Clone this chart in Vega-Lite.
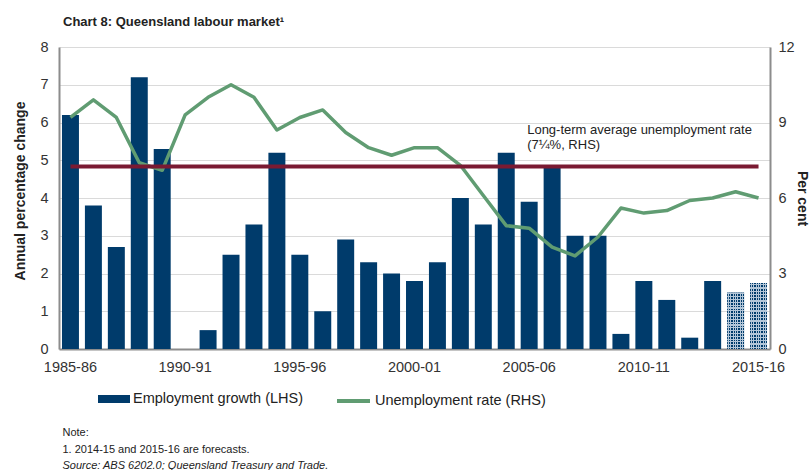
{
  "$schema": "https://vega.github.io/schema/vega-lite/v6.json",
  "width": 711,
  "height": 302,
  "autosize": "none",
  "padding": {"left": 59, "top": 47, "right": 40, "bottom": 121},
  "config": {
    "font": "Liberation Sans",
    "view": {"stroke": null},
    "axis": {
      "labelFont": "Liberation Sans",
      "labelFontSize": 14.5,
      "labelColor": "#333333",
      "titleFont": "Liberation Sans",
      "titleFontSize": 14,
      "titleFontWeight": "bold",
      "titleColor": "#222222",
      "domainColor": "#8c8c8c",
      "domainWidth": 2,
      "ticks": false,
      "grid": false
    },
    "legend": {"labelFont": "Liberation Sans", "labelFontSize": 14.5, "labelColor": "#222222", "padding": 0, "labelLimit": 400}
  },
  "title": {
    "text": "Chart 8: Queensland labour market¹",
    "anchor": "start",
    "frame": "group",
    "fontSize": 13,
    "fontWeight": "bold",
    "color": "#222222",
    "dx": 4,
    "offset": 10
  },
  "data": {
    "values": [
      {"year": "1985-86", "emp": 6.2, "unemp": 9.2, "forecast": false},
      {"year": "1986-87", "emp": 3.8, "unemp": 9.9, "forecast": false},
      {"year": "1987-88", "emp": 2.7, "unemp": 9.2, "forecast": false},
      {"year": "1988-89", "emp": 7.2, "unemp": 7.4, "forecast": false},
      {"year": "1989-90", "emp": 5.3, "unemp": 7.1, "forecast": false},
      {"year": "1990-91", "emp": 0.0, "unemp": 9.3, "forecast": false},
      {"year": "1991-92", "emp": 0.5, "unemp": 10.0, "forecast": false},
      {"year": "1992-93", "emp": 2.5, "unemp": 10.5, "forecast": false},
      {"year": "1993-94", "emp": 3.3, "unemp": 10.0, "forecast": false},
      {"year": "1994-95", "emp": 5.2, "unemp": 8.7, "forecast": false},
      {"year": "1995-96", "emp": 2.5, "unemp": 9.2, "forecast": false},
      {"year": "1996-97", "emp": 1.0, "unemp": 9.5, "forecast": false},
      {"year": "1997-98", "emp": 2.9, "unemp": 8.6, "forecast": false},
      {"year": "1998-99", "emp": 2.3, "unemp": 8.0, "forecast": false},
      {"year": "1999-00", "emp": 2.0, "unemp": 7.7, "forecast": false},
      {"year": "2000-01", "emp": 1.8, "unemp": 8.0, "forecast": false},
      {"year": "2001-02", "emp": 2.3, "unemp": 8.0, "forecast": false},
      {"year": "2002-03", "emp": 4.0, "unemp": 7.3, "forecast": false},
      {"year": "2003-04", "emp": 3.3, "unemp": 6.1, "forecast": false},
      {"year": "2004-05", "emp": 5.2, "unemp": 4.9, "forecast": false},
      {"year": "2005-06", "emp": 3.9, "unemp": 4.8, "forecast": false},
      {"year": "2006-07", "emp": 4.8, "unemp": 4.05, "forecast": false},
      {"year": "2007-08", "emp": 3.0, "unemp": 3.7, "forecast": false},
      {"year": "2008-09", "emp": 3.0, "unemp": 4.45, "forecast": false},
      {"year": "2009-10", "emp": 0.4, "unemp": 5.6, "forecast": false},
      {"year": "2010-11", "emp": 1.8, "unemp": 5.4, "forecast": false},
      {"year": "2011-12", "emp": 1.3, "unemp": 5.5, "forecast": false},
      {"year": "2012-13", "emp": 0.3, "unemp": 5.9, "forecast": false},
      {"year": "2013-14", "emp": 1.8, "unemp": 6.0, "forecast": false},
      {"year": "2014-15", "emp": 1.5, "unemp": 6.25, "forecast": true},
      {"year": "2015-16", "emp": 1.75, "unemp": 6.0, "forecast": true}
    ]
  },
  "encoding": {
    "x": {
      "field": "year",
      "type": "ordinal",
      "scale": {"paddingInner": 0.26, "paddingOuter": 0.13},
      "axis": {
        "values": ["1985-86", "1990-91", "1995-96", "2000-01", "2005-06", "2010-11", "2015-16"],
        "labelAngle": 0,
        "labelPadding": 11,
        "title": null
      }
    }
  },
  "layer": [
    {
      "encoding": {
        "y": {
          "field": "emp",
          "type": "quantitative",
          "scale": {"domain": [0, 8], "nice": false},
          "axis": {
            "orient": "left",
            "values": [0, 1, 2, 3, 4, 5, 6, 7, 8],
            "grid": true,
            "gridColor": "#dadada",
            "gridWidth": 1,
            "labelPadding": 11,
            "title": "Annual percentage change",
            "titlePadding": 12,
            "titleY": 143.5
          }
        }
      },
      "layer": [
        {
          "mark": {"type": "bar"},
          "encoding": {
            "fill": {
              "datum": "Employment growth (LHS)",
              "scale": {"range": ["#003b6b"]},
              "legend": {
                "orient": "none",
                "legendX": 39,
                "legendY": 336,
                "direction": "horizontal",
                "title": null,
                "symbolType": "M-1,-0.25H1V0.25H-1Z",
                "symbolSize": 1024,
                "symbolStrokeWidth": 0,
                "labelOffset": 3
              }
            }
          }
        },
        {
          "transform": [{"filter": "datum.forecast"}],
          "mark": {
            "type": "bar",
            "fill": {
              "gradient": "linear", "x1": 0, "y1": 0, "x2": 1, "y2": 0,
              "stops": [
                {"offset": 0, "color": "rgba(0,0,0,0)"},
                {"offset": 0.04, "color": "rgba(0,0,0,0)"},
                {"offset": 0.04, "color": "#b3c6d8"},
                {"offset": 0.10, "color": "#b3c6d8"},
                {"offset": 0.10, "color": "rgba(0,0,0,0)"},
                {"offset": 0.183, "color": "rgba(0,0,0,0)"},
                {"offset": 0.183, "color": "#b3c6d8"},
                {"offset": 0.243, "color": "#b3c6d8"},
                {"offset": 0.243, "color": "rgba(0,0,0,0)"},
                {"offset": 0.326, "color": "rgba(0,0,0,0)"},
                {"offset": 0.326, "color": "#b3c6d8"},
                {"offset": 0.386, "color": "#b3c6d8"},
                {"offset": 0.386, "color": "rgba(0,0,0,0)"},
                {"offset": 0.469, "color": "rgba(0,0,0,0)"},
                {"offset": 0.469, "color": "#b3c6d8"},
                {"offset": 0.529, "color": "#b3c6d8"},
                {"offset": 0.529, "color": "rgba(0,0,0,0)"},
                {"offset": 0.611, "color": "rgba(0,0,0,0)"},
                {"offset": 0.611, "color": "#b3c6d8"},
                {"offset": 0.671, "color": "#b3c6d8"},
                {"offset": 0.671, "color": "rgba(0,0,0,0)"},
                {"offset": 0.754, "color": "rgba(0,0,0,0)"},
                {"offset": 0.754, "color": "#b3c6d8"},
                {"offset": 0.814, "color": "#b3c6d8"},
                {"offset": 0.814, "color": "rgba(0,0,0,0)"},
                {"offset": 0.897, "color": "rgba(0,0,0,0)"},
                {"offset": 0.897, "color": "#b3c6d8"},
                {"offset": 0.957, "color": "#b3c6d8"},
                {"offset": 0.957, "color": "rgba(0,0,0,0)"},
                {"offset": 1, "color": "rgba(0,0,0,0)"}
              ]
            }
          }
        },
        {
          "transform": [{"filter": "datum.forecast"}],
          "mark": {
            "type": "bar",
            "fill": {
              "gradient": "linear", "x1": 0, "y1": 0, "x2": 0, "y2": 1,
              "stops": [
                {"offset": 0, "color": "rgba(0,0,0,0)"},
                {"offset": 0.015, "color": "rgba(0,0,0,0)"}, {"offset": 0.015, "color": "#b3c6d8"}, {"offset": 0.035, "color": "#b3c6d8"}, {"offset": 0.035, "color": "rgba(0,0,0,0)"},
                {"offset": 0.065, "color": "rgba(0,0,0,0)"}, {"offset": 0.065, "color": "#b3c6d8"}, {"offset": 0.085, "color": "#b3c6d8"}, {"offset": 0.085, "color": "rgba(0,0,0,0)"},
                {"offset": 0.115, "color": "rgba(0,0,0,0)"}, {"offset": 0.115, "color": "#b3c6d8"}, {"offset": 0.135, "color": "#b3c6d8"}, {"offset": 0.135, "color": "rgba(0,0,0,0)"},
                {"offset": 0.165, "color": "rgba(0,0,0,0)"}, {"offset": 0.165, "color": "#b3c6d8"}, {"offset": 0.185, "color": "#b3c6d8"}, {"offset": 0.185, "color": "rgba(0,0,0,0)"},
                {"offset": 0.215, "color": "rgba(0,0,0,0)"}, {"offset": 0.215, "color": "#b3c6d8"}, {"offset": 0.235, "color": "#b3c6d8"}, {"offset": 0.235, "color": "rgba(0,0,0,0)"},
                {"offset": 0.265, "color": "rgba(0,0,0,0)"}, {"offset": 0.265, "color": "#b3c6d8"}, {"offset": 0.285, "color": "#b3c6d8"}, {"offset": 0.285, "color": "rgba(0,0,0,0)"},
                {"offset": 0.315, "color": "rgba(0,0,0,0)"}, {"offset": 0.315, "color": "#b3c6d8"}, {"offset": 0.335, "color": "#b3c6d8"}, {"offset": 0.335, "color": "rgba(0,0,0,0)"},
                {"offset": 0.365, "color": "rgba(0,0,0,0)"}, {"offset": 0.365, "color": "#b3c6d8"}, {"offset": 0.385, "color": "#b3c6d8"}, {"offset": 0.385, "color": "rgba(0,0,0,0)"},
                {"offset": 0.415, "color": "rgba(0,0,0,0)"}, {"offset": 0.415, "color": "#b3c6d8"}, {"offset": 0.435, "color": "#b3c6d8"}, {"offset": 0.435, "color": "rgba(0,0,0,0)"},
                {"offset": 0.465, "color": "rgba(0,0,0,0)"}, {"offset": 0.465, "color": "#b3c6d8"}, {"offset": 0.485, "color": "#b3c6d8"}, {"offset": 0.485, "color": "rgba(0,0,0,0)"},
                {"offset": 0.515, "color": "rgba(0,0,0,0)"}, {"offset": 0.515, "color": "#b3c6d8"}, {"offset": 0.535, "color": "#b3c6d8"}, {"offset": 0.535, "color": "rgba(0,0,0,0)"},
                {"offset": 0.565, "color": "rgba(0,0,0,0)"}, {"offset": 0.565, "color": "#b3c6d8"}, {"offset": 0.585, "color": "#b3c6d8"}, {"offset": 0.585, "color": "rgba(0,0,0,0)"},
                {"offset": 0.615, "color": "rgba(0,0,0,0)"}, {"offset": 0.615, "color": "#b3c6d8"}, {"offset": 0.635, "color": "#b3c6d8"}, {"offset": 0.635, "color": "rgba(0,0,0,0)"},
                {"offset": 0.665, "color": "rgba(0,0,0,0)"}, {"offset": 0.665, "color": "#b3c6d8"}, {"offset": 0.685, "color": "#b3c6d8"}, {"offset": 0.685, "color": "rgba(0,0,0,0)"},
                {"offset": 0.715, "color": "rgba(0,0,0,0)"}, {"offset": 0.715, "color": "#b3c6d8"}, {"offset": 0.735, "color": "#b3c6d8"}, {"offset": 0.735, "color": "rgba(0,0,0,0)"},
                {"offset": 0.765, "color": "rgba(0,0,0,0)"}, {"offset": 0.765, "color": "#b3c6d8"}, {"offset": 0.785, "color": "#b3c6d8"}, {"offset": 0.785, "color": "rgba(0,0,0,0)"},
                {"offset": 0.815, "color": "rgba(0,0,0,0)"}, {"offset": 0.815, "color": "#b3c6d8"}, {"offset": 0.835, "color": "#b3c6d8"}, {"offset": 0.835, "color": "rgba(0,0,0,0)"},
                {"offset": 0.865, "color": "rgba(0,0,0,0)"}, {"offset": 0.865, "color": "#b3c6d8"}, {"offset": 0.885, "color": "#b3c6d8"}, {"offset": 0.885, "color": "rgba(0,0,0,0)"},
                {"offset": 0.915, "color": "rgba(0,0,0,0)"}, {"offset": 0.915, "color": "#b3c6d8"}, {"offset": 0.935, "color": "#b3c6d8"}, {"offset": 0.935, "color": "rgba(0,0,0,0)"},
                {"offset": 0.965, "color": "rgba(0,0,0,0)"}, {"offset": 0.965, "color": "#b3c6d8"}, {"offset": 0.985, "color": "#b3c6d8"}, {"offset": 0.985, "color": "rgba(0,0,0,0)"},
                {"offset": 1, "color": "rgba(0,0,0,0)"}
              ]
            }
          }
        }
      ]
    },
    {
      "mark": {"type": "line", "strokeWidth": 3.5, "strokeJoin": "round"},
      "encoding": {
        "y": {
          "field": "unemp",
          "type": "quantitative",
          "scale": {"domain": [0, 12], "nice": false},
          "axis": {
            "orient": "right",
            "values": [0, 3, 6, 9, 12],
            "grid": false,
            "labelPadding": 8,
            "title": "Per cent",
            "titlePadding": 0
          }
        },
        "stroke": {
          "datum": "Unemployment rate (RHS)",
          "scale": {"range": ["#609c72"]},
          "legend": {
            "orient": "none",
            "legendX": 276,
            "legendY": 335.5,
            "direction": "horizontal",
            "title": null,
            "symbolType": "stroke",
            "symbolSize": 1089,
            "symbolStrokeWidth": 4,
            "labelOffset": 3
          }
        }
      }
    },
    {
      "data": {"values": [{"label": "Long-term average unemployment rate"}]},
      "mark": {"type": "rule", "color": "#7a1a32", "strokeWidth": 4},
      "encoding": {
        "x": {"datum": "1985-86", "type": "ordinal"},
        "x2": {"datum": "2015-16"},
        "y": {"datum": 7.25, "type": "quantitative", "scale": {"domain": [0, 12], "nice": false}, "axis": null}
      }
    },
    {
      "data": {"values": [{"label": "Long-term average unemployment rate"}]},
      "mark": {"type": "text", "align": "left", "baseline": "top", "fontSize": 13, "lineHeight": 15, "color": "#222222", "dx": -2},
      "encoding": {
        "x": {"datum": "2005-06", "type": "ordinal"},
        "y": {"datum": 8.95, "type": "quantitative", "scale": {"domain": [0, 12], "nice": false, "zero": false}, "axis": null},
        "text": {"value": ["Long-term average unemployment rate", "(7¼%, RHS)"]}
      }
    },
    {
      "data": {"values": [{"note": "Note:"}]},
      "mark": {"type": "text", "align": "left", "baseline": "middle", "fontSize": 11, "color": "#222222", "dx": -8},
      "encoding": {
        "x": {"datum": "1985-86", "type": "ordinal"},
        "y": {"datum": -2.217, "type": "quantitative", "scale": {"domain": [0, 8], "nice": false, "zero": false}, "axis": null},
        "text": {"field": "note"}
      }
    },
    {
      "data": {"values": [{"note": "1. 2014-15 and 2015-16 are forecasts."}]},
      "mark": {"type": "text", "align": "left", "baseline": "middle", "fontSize": 11, "color": "#222222", "dx": -8},
      "encoding": {
        "x": {"datum": "1985-86", "type": "ordinal"},
        "y": {"datum": -2.68, "type": "quantitative", "scale": {"domain": [0, 8], "nice": false, "zero": false}, "axis": null},
        "text": {"field": "note"}
      }
    },
    {
      "data": {"values": [{"note": "Source: ABS 6202.0; Queensland Treasury and Trade."}]},
      "mark": {"type": "text", "align": "left", "baseline": "middle", "fontSize": 11, "fontStyle": "italic", "color": "#222222", "dx": -8},
      "encoding": {
        "x": {"datum": "1985-86", "type": "ordinal"},
        "y": {"datum": -3.1, "type": "quantitative", "scale": {"domain": [0, 8], "nice": false, "zero": false}, "axis": null},
        "text": {"field": "note"}
      }
    }
  ],
  "resolve": {"scale": {"y": "independent", "fill": "independent", "stroke": "independent"}}
}
